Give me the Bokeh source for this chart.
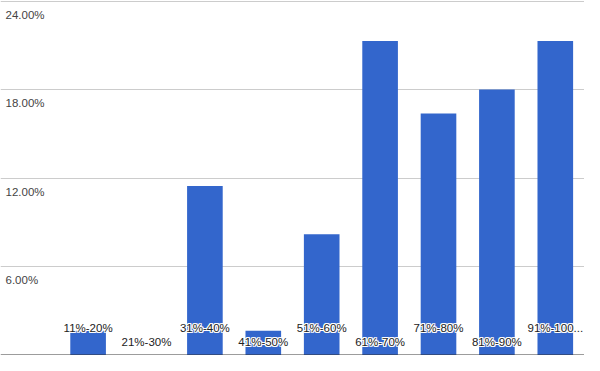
from bokeh.plotting import figure
from bokeh.models import ColumnDataSource, Range1d, FixedTicker, Span
from bokeh.core.properties import value
from bokeh.embed import file_html
from bokeh.resources import INLINE

categories = ["11%-20%", "21%-30%", "31%-40%", "41%-50%", "51%-60%",
              "61%-70%", "71%-80%", "81%-90%", "91%-100..."]
shares = [1.64, 0.0, 11.48, 1.64, 8.20, 21.31, 16.39, 18.03, 21.31]
y_ticks = [6, 12, 18, 24]
y_tick_labels = ["6.00%", "12.00%", "18.00%", "24.00%"]

W, H = 584, 355
FONT = "Liberation Sans"
FS = "11.5px"

p = figure(width=W, height=H, output_backend="svg", toolbar_location=None,
           x_range=Range1d(-1.5, 8.5), y_range=Range1d(-0.032, 24.065),
           min_border=0, min_border_left=0, min_border_right=0,
           min_border_top=0, min_border_bottom=0)
p.xaxis.visible = False
p.yaxis.visible = False
p.xgrid.grid_line_color = None
p.ygrid.ticker = FixedTicker(ticks=y_ticks)
p.ygrid.grid_line_color = "#cccccc"
p.ygrid.grid_line_width = 1
p.outline_line_color = None
p.background_fill_color = "white"
p.border_fill_color = "white"

xs = list(range(len(categories)))
src = ColumnDataSource(dict(x=xs, top=shares, cat=categories))
p.vbar(x="x", top="top", bottom=0, width=0.61, source=src,
       fill_color="#3366cc", line_color=None)

p.add_layout(Span(location=0, dimension="width", line_color="#333333", line_width=1))

# category labels, staggered in two rows
row_y = [1.82 if i % 2 == 0 else 0.88 for i in xs]
lsrc = ColumnDataSource(dict(x=xs, y=row_y, cat=categories))
for dx, dy in [(-1, -1), (-1, 0), (-1, 1), (0, -1), (0, 1), (1, -1), (1, 0), (1, 1)]:
    p.text(x="x", y="y", text="cat", source=lsrc, x_offset=dx, y_offset=dy,
           text_align="center", text_baseline="middle", text_color="white",
           text_font=value(FONT), text_font_size=FS)
p.text(x="x", y="y", text="cat", source=lsrc, text_align="center",
       text_baseline="middle", text_color="#222222",
       text_font=value(FONT), text_font_size=FS)

# y tick labels inside the plot, just below each gridline
tsrc = ColumnDataSource(dict(x=[-1.5] * len(y_ticks),
                             y=[t - 0.9 for t in y_ticks],
                             lab=y_tick_labels))
p.text(x="x", y="y", text="lab", source=tsrc, x_offset=5,
       text_align="left", text_baseline="alphabetic", text_color="#444444",
       text_font=value(FONT), text_font_size=FS)

open("out.html", "w").write(file_html(p, INLINE))
